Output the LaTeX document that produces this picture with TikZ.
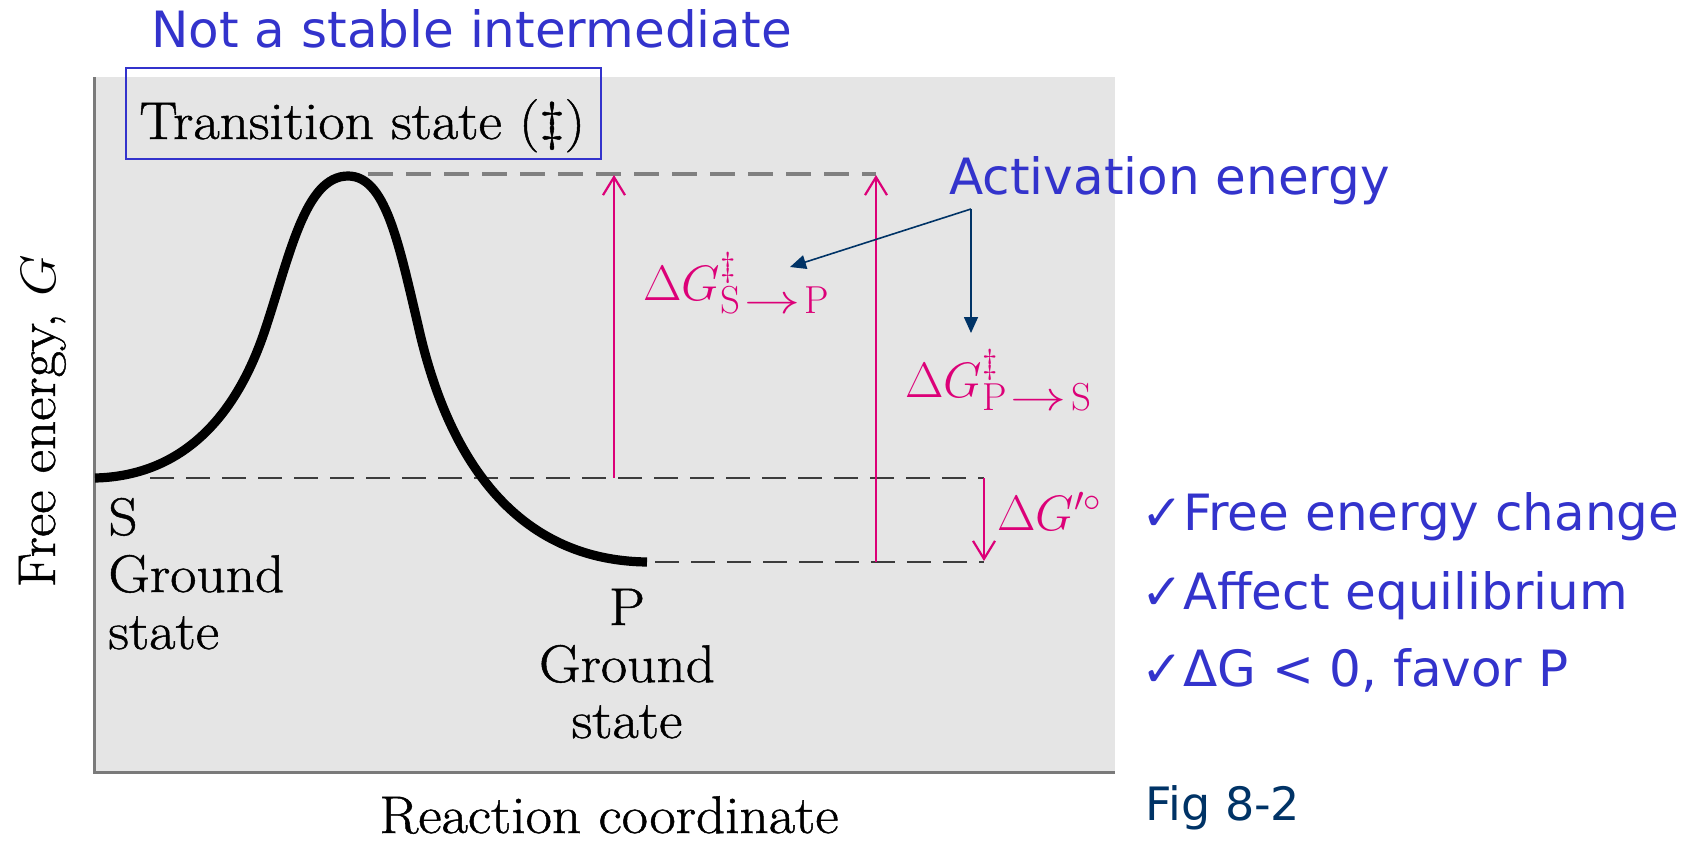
\documentclass[tikz,border=0pt]{standalone}
\usepackage{fontspec}
\usepackage{graphicx}
\usetikzlibrary{arrows.meta}
\newfontfamily\dejavu{DejaVu Sans}
\newfontfamily\heavyserif{Latin Modern Roman}[FakeBold=0.9]
\definecolor{panel}{HTML}{E5E5E5}
\definecolor{axisgray}{HTML}{7A7A7A}
\definecolor{slideblue}{HTML}{3333CC}
\definecolor{navy}{HTML}{003366}
\definecolor{mag}{HTML}{DC0078}
\definecolor{dashdark}{HTML}{3C3C3C}
\definecolor{dashgray}{HTML}{808080}
\newcommand{\widen}[1]{\scalebox{1.08}[1]{#1}}
\newcommand{\actsub}[2]{\mbox{\fontsize{19.5}{22}\selectfont #1\hspace{0.1em}\scalebox{1.35}[1]{$\rightarrow$}\hspace{0.12em}#2}}
\begin{document}
\begin{tikzpicture}[x=0.5pt,y=-0.5pt,
  serif/.style={inner sep=0pt, font=\heavyserif\fontsize{26.5}{30}\selectfont},
  bluetext/.style={inner sep=0pt, text=slideblue, font=\dejavu\fontsize{25}{30}\selectfont},
  maglabel/.style={inner sep=0pt, text=mag, font=\fontsize{23}{28}\selectfont},
  magarrow/.style={draw=mag, line width=1.1pt, -{Straight Barb[length=9pt,width=11pt,line width=1.1pt]}},
  navyarrow/.style={draw=navy, line width=0.8pt, -{Triangle[length=8pt,width=7pt]}},
  levelline/.style={draw=dashdark, line width=1.2pt, dash pattern=on 12pt off 6pt},
  topline/.style={draw=dashgray, line width=1.6pt, dash pattern=on 12.5pt off 6.5pt},
]
\useasboundingbox (0,0) rectangle (1692,842);
% panel
\fill[panel] (94,77) rectangle (1115,772);
\draw[axisgray, line width=1.5pt] (94,77) -- (94,772) -- (1115,772);

% level coordinates
\coordinate (tsL) at (368,174);
\coordinate (tsR) at (876,174);
\coordinate (sL) at (150,478);
\coordinate (sR) at (984,478);
\coordinate (pL) at (655,562);
\coordinate (pR) at (984,562);
\coordinate (a1b) at (614,478);
\coordinate (a1t) at (614,175);
\coordinate (a2b) at (876,562);
\coordinate (a2t) at (876,175);
\coordinate (a3t) at (984,478);
\coordinate (a3b) at (984,561);

% dashed levels
\draw[topline] (tsL) -- (tsR);
\draw[levelline] (sL) -- (sR);
\draw[levelline] (pL) -- (pR);

% energy curve
\coordinate (cS) at (95,478);
\coordinate (cI1) at (265,330);
\coordinate (cTop) at (348,176);
\coordinate (cI2) at (418,325);
\coordinate (cP) at (647,562);
\draw[line width=4.6pt, line join=round]
  (cS) .. controls (180,476) and (235,420) .. (cI1)
       .. controls (290,255) and (305,176) .. (cTop)
       .. controls (385,176) and (398,240) .. (cI2)
       .. controls (438,415) and (490,560) .. (cP);

% magenta arrows
\draw[magarrow] (a1b) -- (a1t);
\draw[magarrow] (a2b) -- (a2t);
\draw[magarrow] (a3t) -- (a3b);

% magenta labels
\node[maglabel, anchor=base west] (dgsp) at (643,300) {$\Delta G^{\ddagger}_{\actsub{S}{P}}$};
\node[maglabel, anchor=base west] (dgps) at (905,397) {$\Delta G^{\ddagger}_{\actsub{P}{S}}$};
\node[maglabel, anchor=base west] (dg0) at (997,530) {$\Delta G^{\prime\circ}$};

% transition state box
\draw[slideblue, line width=1pt] (126,68) rectangle (601,159);
\node[serif, anchor=base west] (ts) at (139,139) {\widen{Transition state (\ddag)}};

% axis labels
\node[serif, anchor=base, rotate=90] (ylab) at (55,421) {\widen{Free energy, $G$}};
\node[serif, anchor=base west] (xlab) at (379,833) {\widen{Reaction coordinate}};

% state labels
\node[serif, anchor=base west] (sS) at (108,535) {\widen{S}};
\node[serif, anchor=base west] (sG) at (108,592) {\widen{Ground}};
\node[serif, anchor=base west] (sSt) at (108,649) {\widen{state}};
\node[serif, anchor=base] (pP) at (627,625) {\widen{P}};
\node[serif, anchor=base] (pG) at (627,682) {\widen{Ground}};
\node[serif, anchor=base] (pSt) at (627,738) {\widen{state}};

% blue annotations
\node[bluetext, anchor=base west] (nsi) at (151,47) {Not a stable intermediate};
\node[bluetext, anchor=base west] (act) at (949,194) {Activation energy};
\coordinate (junc) at (971,209);
\coordinate (tgt1) at (790,267);
\coordinate (tgt2) at (971,333);
\draw[navyarrow] (junc) -- (tgt1);
\draw[navyarrow] (junc) -- (tgt2);

\node[bluetext, anchor=base west] (c1) at (1141,530) {✓Free energy change};
\node[bluetext, anchor=base west] (c2) at (1141,609) {✓Affect equilibrium};
\node[bluetext, anchor=base west] (c3) at (1141,686) {✓ΔG < 0, favor P};

\node[inner sep=0pt, text=navy, font=\dejavu\fontsize{23}{28}\selectfont, anchor=base west] (fig) at (1145,820) {Fig 8-2};
\end{tikzpicture}
\end{document}
